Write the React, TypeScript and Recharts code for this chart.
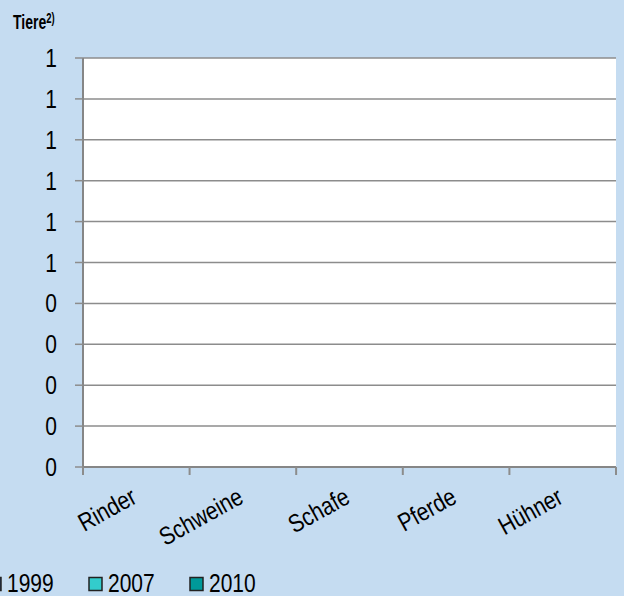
import React from "react"
import { BarChart, Bar, XAxis, YAxis, CartesianGrid } from "recharts"

const categories = ["Rinder", "Schweine", "Schafe", "Pferde", "Hühner"]
const values1999 = [0, 0, 0, 0, 0]
const values2007 = [0, 0, 0, 0, 0]
const values2010 = [0, 0, 0, 0, 0]
const yTicks = [0, 0.1, 0.2, 0.3, 0.4, 0.5, 0.6, 0.7, 0.8, 0.9, 1]

const series = [
  { key: "y1999", name: "1999", color: "#1F3F7A" },
  { key: "y2007", name: "2007", color: "#33CCCC" },
  { key: "y2010", name: "2010", color: "#009999" },
]

const data = categories.map((c, i) => ({
  name: c,
  y1999: values1999[i],
  y2007: values2007[i],
  y2010: values2010[i],
}))

const BG = "#C5DCF1"
const FONT = "'Liberation Sans', Arial, sans-serif"
// the original uses a condensed face, so text gets a scaleY
const STRETCH = 1.2

function CategoryTick(props: any) {
  const { x, y, payload, index } = props
  const half = payload?.offset ?? 53.3
  const ax = x + 2
  const ay = y + 27
  return (
    <g>
      <line x1={x - half} y1={y - 8} x2={x - half} y2={y} stroke="#8c8c8c" strokeWidth={2} />
      {index === categories.length - 1 && (
        <line x1={x + half} y1={y - 8} x2={x + half} y2={y} stroke="#8c8c8c" strokeWidth={2} />
      )}
      <g transform={`translate(${ax}, ${ay}) rotate(-29) scale(1, ${STRETCH})`}>
        <text x={0} y={0} textAnchor="end" fontSize={21} fontFamily={FONT} fill="#000">
          {payload.value}
        </text>
      </g>
    </g>
  )
}

function ValueTick(props: any) {
  const { x, y, payload } = props
  return (
    <g transform={`translate(${x}, ${y}) scale(1, ${STRETCH})`}>
      <text x={0} y={0} dy="0.36em" textAnchor="end" fontSize={21} fontFamily={FONT} fill="#000">
        {String(Math.round(payload.value))}
      </text>
    </g>
  )
}

export default function App() {
  return (
    <div style={{ position: "relative", width: 624, height: 596, background: BG, overflow: "hidden" }}>
      <style>{`body{margin:0}`}</style>
      <BarChart
        width={624}
        height={596}
        data={data}
        margin={{ top: 58, right: 8, bottom: 49, left: 0 }}
        barCategoryGap="20%"
      >
        <CartesianGrid vertical={false} fill="#fff" stroke="#8c8c8c" strokeWidth={1.5} />
        <XAxis
          dataKey="name"
          height={80}
          axisLine={{ stroke: "#868686", strokeWidth: 2 }}
          tickLine={false}
          tick={<CategoryTick />}
          interval={0}
        />
        <YAxis
          width={83}
          domain={[0, 1]}
          ticks={yTicks}
          interval={0}
          axisLine={{ stroke: "#868686", strokeWidth: 2 }}
          tickLine={{ stroke: "#8c8c8c", strokeWidth: 1.5 }}
          tickSize={8}
          tickMargin={18}
          tick={<ValueTick />}
        />
        {series.map((s) => (
          <Bar
            key={s.key}
            dataKey={s.key}
            name={s.name}
            fill={s.color}
            stroke="#222"
            isAnimationActive={false}
          />
        ))}
      </BarChart>
      <svg
        width={624}
        height={596}
        style={{ position: "absolute", left: 0, top: 0, pointerEvents: "none" }}
      >
        <g transform={`translate(13, 29) scale(1, 1.45)`}>
          <text x={0} y={0} fontSize={14} fontWeight="bold" fontFamily={FONT} fill="#000">
            Tiere
            <tspan fontSize={9.5} dy={-4}>2)</tspan>
          </text>
        </g>
        {series.map((s, i) => {
          const mx = -12 + i * 101
          return (
            <g key={s.key}>
              <rect x={mx} y={577.5} width={13} height={13} fill={s.color} stroke="#222" strokeWidth={1.5} />
              <g transform={`translate(${mx + 19}, 592) scale(1, ${STRETCH})`}>
                <text x={0} y={0} fontSize={21} fontFamily={FONT} fill="#000">
                  {s.name}
                </text>
              </g>
            </g>
          )
        })}
      </svg>
    </div>
  )
}
